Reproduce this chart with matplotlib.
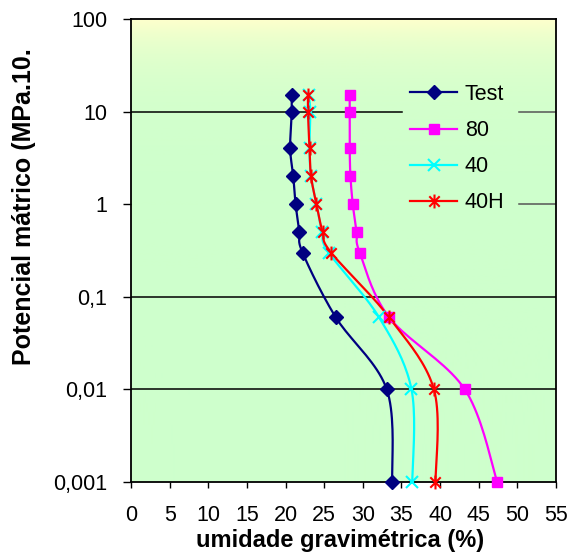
import numpy as np
import matplotlib
matplotlib.use("Agg")
import matplotlib.pyplot as plt
from matplotlib.path import Path
from matplotlib.lines import Line2D

plt.rcParams['font.family'] = ['Liberation Sans', 'DejaVu Sans']

# ---- data ----
potential = [15, 10, 4, 2, 1, 0.5, 0.3, 0.06, 0.01, 0.001]
test_vals = [20.8, 20.8, 20.6, 21.0, 21.3, 21.8, 22.2, 26.5, 33.1, 33.8]
s80_vals = [28.3, 28.3, 28.3, 28.4, 28.7, 29.2, 29.6, 33.4, 43.2, 47.4]
s40_vals = [23.0, 23.2, 23.1, 23.3, 24.0, 24.7, 25.6, 32.1, 36.3, 36.4]
s40h_vals = [22.9, 22.9, 23.1, 23.3, 24.0, 24.8, 25.9, 33.4, 39.2, 39.4]
series_names = ["Test", "80", "40", "40H"]
y_ticks = [0.001, 0.01, 0.1, 1, 10, 100]
y_tick_labels = ["0,001", "0,01", "0,1", "1", "10", "100"]
x_ticks = list(range(0, 60, 5))

# star marker (X plus vertical bar)
star = Path([(0, -1), (0, 1), (-0.75, -0.75), (0.75, 0.75), (-0.75, 0.75), (0.75, -0.75)],
            [Path.MOVETO, Path.LINETO, Path.MOVETO, Path.LINETO, Path.MOVETO, Path.LINETO])

styles = [
    dict(color="#000080", marker="D", ms=7, mfc="#000080", mec="#000080"),
    dict(color="#FF00FF", marker="s", ms=7.5, mfc="#FF00FF", mec="#FF00FF"),
    dict(color="#00FFFF", marker="x", ms=8, mfc="#00FFFF", mec="#00FFFF", mew=1.5),
    dict(color="#FF0000", marker=star, ms=10, mfc="#FF0000", mec="#FF0000", mew=1.5),
]

fig = plt.figure(figsize=(5.72, 5.54), dpi=100)
ax = fig.add_axes([131/572, 1 - 482/554, (556 - 131)/572, (482 - 19)/554])

ax.set_yscale("log")

# gradient background
grad = np.linspace(0, 1, 256).reshape(-1, 1)
top = np.array([255, 255, 204]) / 255
bot = np.array([206, 255, 204]) / 255
img = (bot[None, :] * (1 - grad) + top[None, :] * grad)[:, None, :]
ax.imshow(img, extent=[0, 55, 0.001, 100], aspect="auto", origin="lower", zorder=0)
ax.set_xlim(0, 55)
ax.set_ylim(0.001, 100)


def smooth(xs, ys, n=20):
    # Catmull-Rom in (x, log y) space
    P = np.column_stack([np.asarray(xs, float), np.log10(ys)])
    P = np.vstack([P[0], P, P[-1]])
    out = []
    for i in range(1, len(P) - 2):
        p0, p1, p2, p3 = P[i - 1], P[i], P[i + 1], P[i + 2]
        t = np.linspace(0, 1, n, endpoint=False)[:, None]
        seg = 0.5 * ((2 * p1) + (-p0 + p2) * t + (2 * p0 - 5 * p1 + 4 * p2 - p3) * t ** 2
                     + (-p0 + 3 * p1 - 3 * p2 + p3) * t ** 3)
        out.append(seg)
    out.append(P[-2][None, :])
    out = np.vstack(out)
    return out[:, 0], 10 ** out[:, 1]


# gridlines
for yv in [0.1, 0.01]:
    ax.axhline(yv, color="black", lw=1.1, zorder=1)
ax.plot([0, 35.1], [10, 10], color="black", lw=1.1, zorder=1)
ax.plot([50.2, 55], [10, 10], color="#555555", lw=1.1, zorder=1)
ax.plot([50.2, 55], [1, 1], color="#555555", lw=1.1, zorder=1)

all_vals = [test_vals, s80_vals, s40_vals, s40h_vals]
handles = []
for name, vals, st in zip(series_names, all_vals, styles):
    sx, sy = smooth(vals, potential)
    ax.plot(sx, sy, color=st["color"], lw=1.6, zorder=3)
    ax.plot(vals, potential, ls="none", marker=st["marker"], ms=st["ms"],
            mfc=st["mfc"], mec=st["mec"], mew=st.get("mew", 1), zorder=4, clip_on=False)
    handles.append(Line2D([0], [0], color=st["color"], lw=1.6, marker=st["marker"],
                          ms=st["ms"], mfc=st["mfc"], mec=st["mec"], mew=st.get("mew", 1)))

leg = ax.legend(handles, series_names, loc="upper left",
                bbox_to_anchor=((410 - 131) / 425, (482 - 84) / 463),
                frameon=False, fontsize=15.5, handlelength=2.2, handletextpad=0.35,
                labelspacing=0.70, borderaxespad=0, borderpad=0)

ax.set_yticks(y_ticks)
ax.set_yticklabels(y_tick_labels)
ax.yaxis.set_minor_locator(matplotlib.ticker.NullLocator())
ax.set_xticks(x_ticks)
ax.tick_params(axis="both", direction="out", width=1, labelsize=15.5)
ax.tick_params(axis="y", length=6, pad=11)
ax.tick_params(axis="x", length=4.5, pad=12)
for sp in ax.spines.values():
    sp.set_linewidth(1.3)
    sp.set_color("black")

fig.text(24/572, 1 - 207/554, "Potencial mátrico (MPa.10.", rotation=90, ha="center",
         va="center", fontsize=18, fontweight="bold")
fig.text(340/572, 1 - 547/554, "umidade gravimétrica (%)", ha="center", va="baseline",
         fontsize=17, fontweight="bold")

fig.savefig("out.png", dpi=100)
